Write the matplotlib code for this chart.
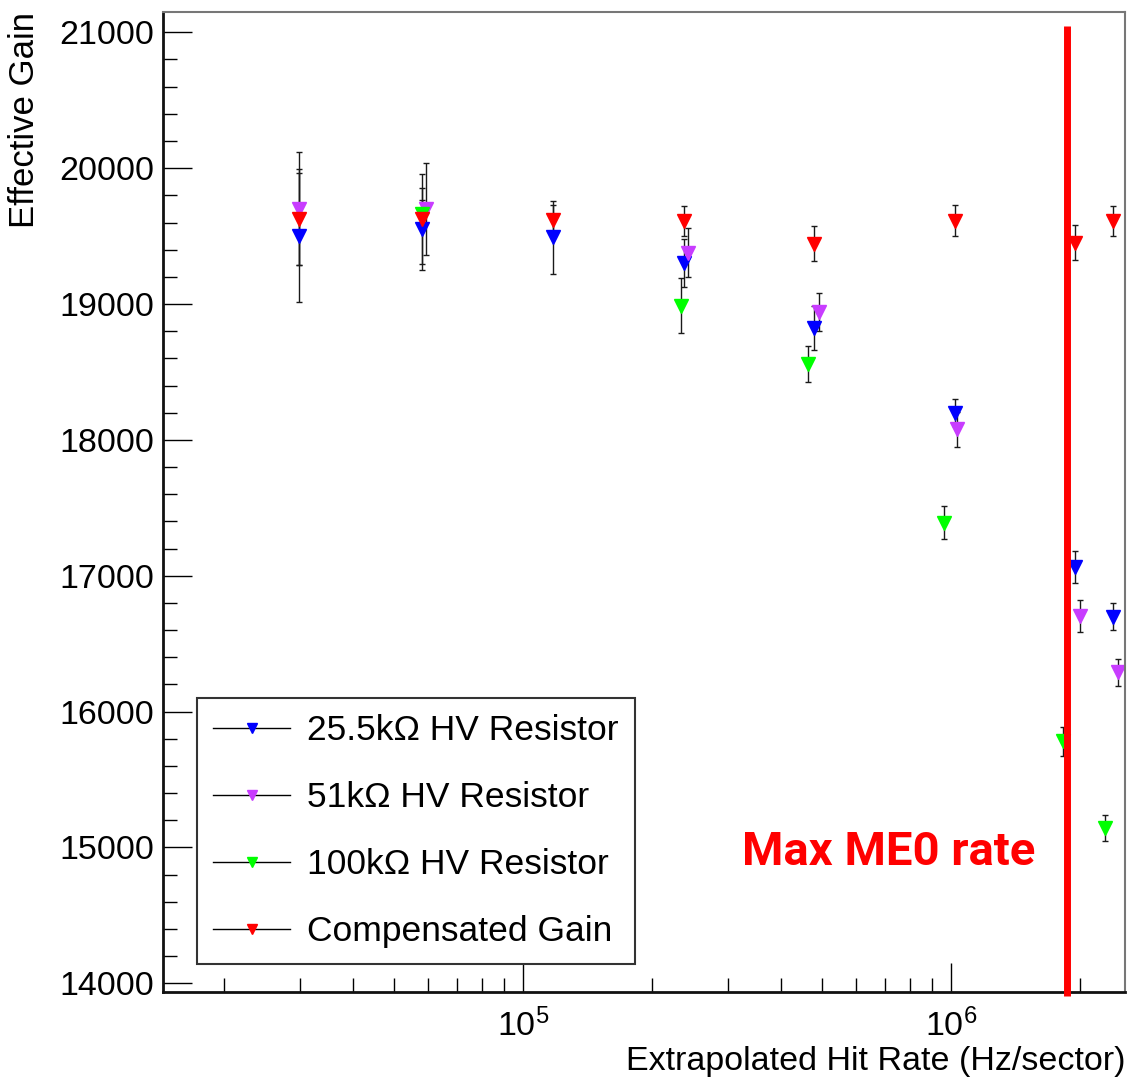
import numpy as np
import matplotlib
matplotlib.use("Agg")
import matplotlib.pyplot as plt
from matplotlib.lines import Line2D
from matplotlib.ticker import MultipleLocator, FuncFormatter, LogLocator

plt.rcParams['font.family'] = ['Liberation Sans', 'DejaVu Sans']
plt.rcParams['mathtext.default'] = 'regular'

# data
rate_blue = [2.99e4, 5.79e4, 1.171e5, 2.368e5, 4.79e5, 1.02e6, 1.949e6, 2.385e6]
gain_blue = [19502, 19551, 19490, 19302, 18824, 18199, 17065, 16698]
err_blue = [490, 300, 270, 180, 165, 100, 120, 100]

rate_purple = [2.99e4, 5.93e4, 2.425e5, 4.91e5, 1.031e6, 2.0e6, 2.45e6]
gain_purple = [19701, 19701, 19377, 18938, 18079, 16705, 16289]
err_purple = [415, 338, 180, 140, 128, 120, 100]

rate_green = [5.79e4, 2.33e5, 4.62e5, 9.63e5, 1.827e6, 2.29e6]
gain_green = [19664, 18988, 18559, 17390, 15781, 15145]
err_green = [100, 200, 133, 120, 105, 95]

rate_red = [2.99e4, 5.79e4, 1.171e5, 2.368e5, 4.79e5, 1.02e6, 1.949e6, 2.385e6]
gain_red = [19624, 19627, 19620, 19613, 19444, 19613, 19451, 19613]
err_red = [340, 333, 110, 110, 130, 115, 130, 110]

labels = ['25.5k\u03a9 HV Resistor', '51k\u03a9 HV Resistor',
          '100k\u03a9 HV Resistor', 'Compensated Gain']
colors = ['#0000ff', '#c83cff', '#00ff00', '#ff0000']

max_rate = 1.864e6

fig = plt.figure(figsize=(11.3, 10.81), dpi=100)
ax = fig.add_axes([0.144, 0.0826, 0.8516, 0.9066])

series = [(rate_blue, gain_blue, err_blue),
          (rate_purple, gain_purple, err_purple),
          (rate_green, gain_green, err_green),
          (rate_red, gain_red, err_red)]

for (xs, ys, es), c in zip(series, colors):
    ax.errorbar(xs, ys, yerr=es, fmt='v', color=c, ms=10, mec=c,
                ecolor='#1a1a1a', elinewidth=1.0, capsize=2.5, capthick=1.0)

ax.set_xscale('log')
ax.set_xlim(14373, 2.546e6)
ax.set_ylim(13938, 21152)

# Max ME0 rate line
ax.plot([max_rate, max_rate], [13910, 21046], color='#ff0000', lw=5,
        clip_on=False, zorder=5, solid_capstyle='butt')
ax.text(1.569e6, 14871, 'Max ME0 rate', color='#ff0000', fontsize=34,
        fontweight='bold', family='Roboto', ha='right', va='baseline')

ax.yaxis.set_major_locator(MultipleLocator(1000))
ax.yaxis.set_minor_locator(MultipleLocator(200))
ax.yaxis.set_major_formatter(FuncFormatter(lambda v, p: '%d' % v))
ax.xaxis.set_major_locator(LogLocator(base=10, numticks=10))
ax.xaxis.set_minor_locator(LogLocator(base=10, subs=np.arange(2, 10), numticks=20))

ax.tick_params(which='both', direction='in', top=False, right=False, labelsize=24.5)
ax.tick_params(axis='y', which='major', length=21, width=1, pad=6)
ax.tick_params(axis='y', which='minor', length=10, width=1)
ax.tick_params(axis='x', which='major', length=21, width=1, pad=12)
ax.tick_params(axis='x', which='minor', length=10, width=1)

for s in ['left', 'bottom']:
    ax.spines[s].set_linewidth(2)
    ax.spines[s].set_color('#111111')
for s in ['top', 'right']:
    ax.spines[s].set_linewidth(1.5)
    ax.spines[s].set_color('#777777')

ax.set_ylabel('Effective Gain', fontsize=25, loc='top')
ax.yaxis.set_label_coords(-0.127, 1.0)
ax.set_xlabel('Extrapolated Hit Rate (Hz/sector)', fontsize=24.5, loc='right')
ax.xaxis.set_label_coords(1.0, -0.055)

handles = [Line2D([0], [0], color='black', lw=1, marker='v', ms=7.5,
                  mfc=c, mec=c) for c in colors]
leg = ax.legend(handles, labels, loc='lower left', bbox_to_anchor=(0.0356, 0.028),
                borderaxespad=0, fontsize=25.5, handlelength=2.18, handletextpad=0.48,
                borderpad=0.45, labelspacing=0.96, fancybox=False, framealpha=1)
leg.get_frame().set_edgecolor('#333333')
leg.get_frame().set_linewidth(1.5)

fig.savefig('out.png', dpi=100)
